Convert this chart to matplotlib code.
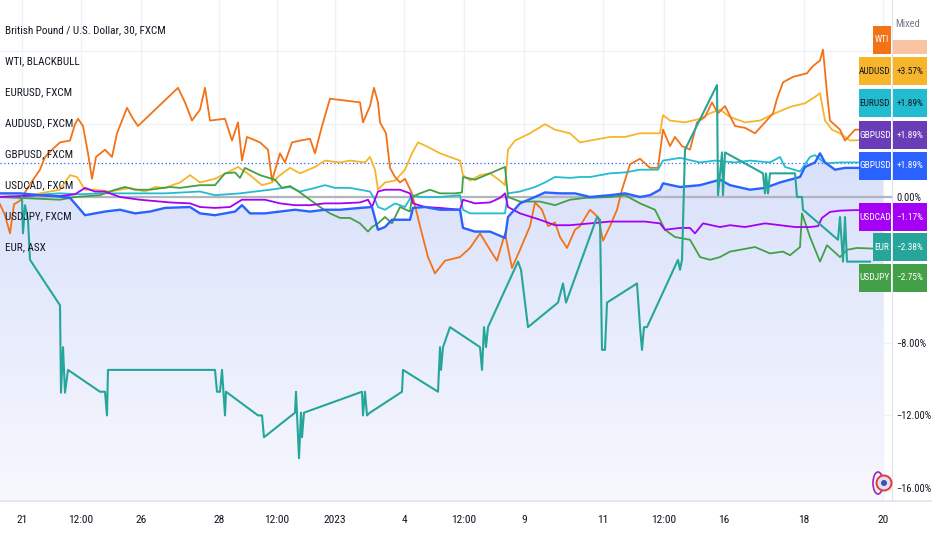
import numpy as np
import matplotlib
matplotlib.use("Agg")
import matplotlib.pyplot as plt
from matplotlib import font_manager
from matplotlib.colors import LinearSegmentedColormap
from matplotlib.patches import Rectangle, Polygon, Circle, Ellipse
from matplotlib.lines import Line2D
from matplotlib.transforms import IdentityTransform

W, H = 932, 550

# x = bar position on the gap-free 30 min axis, y = change in %
tick_pos = [22, 81, 141, 219, 277, 335, 404, 464, 524, 603, 664, 724, 804, 883]
tick_lbl = ["21", "12:00", "26", "28", "12:00", "2023", "4", "12:00", "9", "11",
            "12:00", "16", "18", "20"]
y_ticks = [-16, -12, -8, -4, 0, 4, 8]
y_shown = [-16, -12, -8, 0]   # the others sit under the value labels

wti_x = [0, 5, 10, 14, 20, 30, 40, 45, 52, 60, 70, 75, 78, 83, 88, 92, 96, 105, 112, 117,
         127, 133, 138, 178, 185, 192, 200, 205, 210, 225, 232, 238, 242, 247, 260, 268, 272,
         280, 285, 292, 300, 310, 315, 322, 330, 360, 363, 370, 374, 378, 380, 386, 390, 395,
         400, 405, 412, 420, 428, 435, 445, 460, 470, 480, 490, 497, 505, 512, 520, 530, 535,
         542, 548, 555, 560, 567, 575, 580, 590, 598, 603, 610, 617, 622, 630, 640, 650, 658,
         663, 670, 675, 682, 690, 697, 705, 712, 718, 725, 735, 745, 755, 765, 773, 777, 783,
         793, 807, 813, 820, 823, 827, 830, 840, 845, 855, 880]
wti_y = [-0.4, -1.0, -2.0, -0.4, -0.2, 0.7, 1.5, 2.2, 2.6, 3.0, 3.1, 4.0, 4.3, 3.9, 2.4, 1.0,
         2.2, 2.6, 2.2, 3.5, 4.9, 4.3, 3.9, 6.0, 5.2, 4.2, 4.8, 6.0, 4.2, 4.3, 3.1, 4.1, 2.0,
         3.3, 3.0, 2.6, 0.9, 2.4, 1.9, 3.0, 3.1, 3.2, 2.4, 3.9, 5.4, 5.2, 4.1, 5.0, 6.0, 5.2,
         4.1, 3.5, 1.6, 1.1, 0.8, 1.0, 0.2, -1.6, -3.3, -4.2, -3.5, -3.3, -2.8, -2.0, -2.9,
         -3.5, -2.0, -3.9, -2.9, -1.6, -0.3, -0.7, -1.6, -1.4, -2.2, -2.8, -1.8, -1.6, -0.7,
         -1.1, -2.4, -1.6, -0.7, 0.4, 1.8, 2.1, 1.6, 1.6, 3.7, 2.8, 3.3, 2.8, 2.6, 4.1, 4.4,
         5.2, 4.6, 5.0, 3.9, 3.8, 3.5, 4.1, 4.6, 5.4, 6.3, 6.6, 6.8, 7.2, 7.5, 8.1, 5.7, 4.2,
         3.7, 3.1, 3.7, 3.7]

aud_x = [0, 10, 20, 30, 40, 50, 60, 70, 77, 85, 95, 110, 130, 145, 155, 165, 180, 190, 200,
         215, 238, 250, 262, 272, 280, 290, 300, 315, 325, 340, 350, 365, 370, 375, 378, 385,
         395, 405, 412, 418, 428, 440, 450, 460, 463, 470, 480, 490, 500, 505, 508, 515, 530,
         545, 555, 570, 580, 590, 610, 625, 640, 660, 663, 670, 685, 700, 710, 720, 730, 745,
         760, 775, 790, 805, 815, 820, 825, 832, 840, 850, 880]
aud_y = [0.0, 0.05, -0.05, 0.1, 0.2, 0.3, 0.4, 1.2, 1.1, 0.4, 0.4, 0.3, 0.5, 0.3, 0.55, 0.5,
         0.8, 1.2, 0.8, 1.0, 1.65, 1.2, 0.65, 0.8, 1.2, 1.6, 1.3, 1.65, 2.0, 1.9, 2.0, 1.9, 2.2,
         1.5, 0.4, 0.8, 0.9, 1.5, 2.4, 3.0, 2.75, 2.4, 2.2, 2.0, 1.2, 0.9, 1.2, 1.3, 0.9, 0.65,
         2.6, 3.1, 3.5, 4.0, 3.7, 3.5, 3.0, 3.1, 3.3, 3.3, 3.5, 3.5, 4.5, 4.2, 4.1, 4.3, 4.6,
         4.8, 4.4, 4.1, 4.2, 4.6, 4.95, 5.15, 5.5, 5.7, 4.2, 3.7, 3.5, 3.1, 3.2]

eur_x = [0, 15, 30, 45, 60, 80, 100, 130, 165, 200, 215, 240, 270, 290, 300, 315, 325, 335,
         350, 370, 375, 378, 385, 395, 405, 412, 420, 440, 460, 463, 470, 490, 505, 508, 520,
         535, 545, 555, 570, 580, 590, 610, 625, 640, 658, 663, 680, 700, 715, 735, 750, 770,
         780, 785, 800, 810, 815, 825, 840, 855, 880]
eur_y = [0.0, 0.0, 0.05, 0.15, 0.2, 0.15, 0.2, 0.2, 0.2, 0.3, 0.1, 0.2, 0.4, 0.55, 0.3, 0.5,
         0.65, 0.5, 0.5, 0.3, -0.15, -0.55, -0.7, -0.35, -0.55, 0.1, 0.0, 0.0, 0.1, -0.7, -0.9,
         -0.9, -0.9, 0.2, 0.3, 0.55, 0.8, 1.1, 1.05, 1.1, 1.1, 1.3, 1.35, 1.5, 1.5, 2.0, 2.15,
         1.9, 2.0, 1.9, 2.0, 1.9, 2.2, 1.65, 1.4, 2.2, 2.3, 1.85, 1.9, 1.9, 1.9]

gbp_x = [0, 20, 40, 55, 70, 78, 85, 95, 105, 120, 135, 150, 165, 190, 200, 215, 235, 242, 250,
         265, 280, 295, 310, 325, 340, 360, 372, 378, 385, 392, 400, 410, 413, 425, 440, 460,
         463, 475, 490, 505, 508, 520, 535, 545, 560, 575, 590, 610, 625, 640, 650, 660, 663,
         680, 700, 720, 730, 750, 765, 780, 800, 805, 815, 820, 825, 835, 845, 855, 883]
gbp_y = [0.2, 0.2, 0.1, 0.05, -0.05, -0.55, -1.0, -0.9, -0.8, -0.7, -0.9, -0.8, -0.6, -0.55,
         -0.9, -1.0, -0.8, -0.45, -0.9, -0.9, -0.8, -0.7, -0.8, -0.7, -0.7, -0.6, -0.55, -1.8,
         -1.65, -1.25, -1.25, -1.25, -0.6, -0.55, -0.7, -0.7, -1.7, -1.9, -1.9, -2.25, -1.1,
         -0.35, 0.0, 0.25, 0.2, 0.2, 0.0, 0.1, 0.2, 0.0, 0.1, 0.4, 0.75, 0.55, 0.65, 0.95, 0.65,
         0.4, 0.5, 0.8, 1.1, 1.65, 1.9, 2.4, 1.9, 1.5, 1.6, 1.6, 1.6]
gbp_last = 1.89

cad_x = [0, 20, 40, 60, 75, 85, 95, 105, 120, 140, 170, 190, 200, 215, 230, 242, 250, 265, 280,
         295, 310, 325, 340, 360, 368, 372, 378, 385, 400, 410, 413, 425, 440, 460, 463, 475,
         490, 500, 505, 508, 520, 540, 555, 570, 590, 610, 625, 645, 660, 665, 680, 690, 695,
         703, 720, 730, 745, 765, 780, 795, 810, 818, 822, 830, 840, 855, 880]
cad_y = [0.0, 0.05, 0.1, 0.05, 0.15, 0.5, 0.3, 0.3, 0.0, -0.15, -0.3, -0.35, -0.55, -0.6, -0.55,
         -0.15, -0.15, -0.15, -0.35, -0.45, -0.45, -0.35, -0.35, -0.3, -0.15, -0.55, 0.3, 0.4,
         0.4, 0.2, -0.35, -0.55, -0.6, -0.7, -0.15, -0.35, -0.3, -0.05, 0.2, -0.55, -0.9,
         -1.25, -1.55, -1.55, -1.45, -1.35, -1.35, -1.35, -1.45, -1.8, -1.7, -1.7, -2.0, -1.45,
         -1.65, -1.55, -1.65, -1.45, -1.55, -1.65, -1.65, -1.6, -1.15, -0.82, -0.75, -0.72,
         -0.75]

jpy_x = [0, 20, 40, 60, 75, 100, 115, 125, 135, 150, 170, 180, 200, 215, 225, 235, 240, 245,
         260, 275, 282, 290, 300, 310, 320, 330, 340, 350, 360, 368, 372, 378, 385, 392, 400,
         410, 412, 420, 430, 440, 455, 462, 463, 475, 490, 505, 508, 520, 540, 555, 570, 585,
         610, 625, 640, 655, 665, 675, 690, 700, 710, 720, 730, 740, 755, 770, 783, 790, 800,
         802, 810, 820, 827, 840, 847, 857, 880]
jpy_y = [0.0, -0.05, -0.1, -0.15, 0.0, 0.1, 0.4, 0.55, 0.4, 0.4, 0.55, 0.5, 0.65, 0.65, 1.3,
         1.35, 1.05, 1.6, 1.2, 0.95, 0.5, 0.6, 0.25, -0.15, -0.55, -0.9, -1.15, -1.15, -1.45,
         -1.9, -1.65, -1.45, -1.1, -1.45, -0.55, -0.8, 0.0, 0.2, 0.4, 0.2, 0.2, 0.25, 1.1, 0.95,
         1.3, 1.65, 0.0, -0.25, -0.25, -0.45, -0.15, -0.05, 0.0, 0.1, -0.35, -0.7, -1.8, -2.2,
         -2.35, -3.3, -3.45, -3.3, -3.0, -2.9, -2.75, -3.1, -3.0, -3.2, -2.75, -0.9, -2.2,
         -3.55, -2.65, -3.3, -2.9, -2.8, -2.85]

asx_x = [22, 23, 25, 28, 30, 60, 61, 63, 65, 68, 100, 105, 107, 108, 215, 217, 220, 222, 225,
         226, 258, 262, 264, 295, 296, 299, 301, 302, 304, 362, 363, 365, 367, 370, 402, 403,
         438, 440, 441, 443, 450, 480, 482, 484, 486, 488, 518, 521, 525, 528, 558, 563, 566,
         568, 597, 600, 602, 605, 607, 637, 640, 642, 644, 647, 678, 680, 682, 685, 717, 718,
         722, 723, 725, 763, 765, 766, 768, 770, 795, 797, 802, 803, 838, 840, 843, 845, 847,
         870]
asx_y = [0.0, -2.0, -0.45, -1.25, -3.45, -5.95, -10.75, -8.25, -10.75, -9.5, -10.7, -10.7,
         -12.0, -9.5, -9.5, -10.7, -10.7, -9.5, -12.0, -10.7, -12.0, -12.0, -13.2, -11.85,
         -10.7, -14.35, -11.85, -13.2, -11.85, -10.7, -12.0, -10.7, -12.0, -11.85, -10.7, -9.5,
         -10.7, -8.25, -9.5, -8.25, -7.15, -8.25, -9.5, -7.15, -8.25, -7.15, -3.55, -4.0, -5.8,
         -7.15, -5.8, -4.75, -5.8, -5.5, -1.1, -1.25, -8.4, -8.4, -5.8, -4.75, -7.15, -8.4,
         -7.15, -7.15, -3.45, -4.0, -3.45, 2.6, 6.15, 0.1, 2.45, 0.1, 2.45, 1.3, 0.2, 1.3, 0.2,
         1.3, 1.3, 0.0, 0.0, -0.7, -2.35, -1.1, -3.55, -1.1, -3.55, -3.55]

legend_lines = ["British Pound / U.S. Dollar, 30, FXCM", "WTI, BLACKBULL", "EURUSD, FXCM",
                "AUDUSD, FXCM", "GBPUSD, FXCM", "USDCAD, FXCM", "USDJPY, FXCM", "EUR, ASX"]
lbl_names = ["WTI", "AUDUSD", "EURUSD", "GBPUSD", "GBPUSD", "USDCAD", "EUR", "USDJPY"]
lbl_values = ["", "+3.57%", "+1.89%", "+1.89%", "+1.89%", "\u22121.17%", "\u22122.38%",
              "\u22122.75%"]

C_WTI, C_AUD, C_EUR, C_GBP = "#F47216", "#F7B52C", "#22BCD1", "#2962FF"
C_CAD, C_ASX, C_JPY, C_GBP2 = "#A400F5", "#26A69A", "#43A047", "#6A3DB8"
lbl_colors = [C_WTI, C_AUD, C_EUR, C_GBP2, C_GBP, C_CAD, C_ASX, C_JPY]
INK, GRID = "#131722", "#EEF1F8"

# narrow face if there is one, TradingView text is tall and thin
avail = {f.name for f in font_manager.fontManager.ttflist}
FONT, SCALE = "Roboto", 1.0
for cand in ["Liberation Sans Narrow", "Roboto Condensed", "Open Sans Condensed"]:
    if cand in avail:
        FONT, SCALE = cand, 1.2
        break
plt.rcParams["font.family"] = [FONT, "DejaVu Sans"]
FS_LEG, FS_TICK, FS_BOX = 6.7 * SCALE, 6.2 * SCALE, 5.6 * SCALE

X_RIGHT, Y_BOTTOM = 892, 500
YTOP = 197 / 18.2
YLO = (197 - Y_BOTTOM) / 18.2

fig = plt.figure(figsize=(W / 100, H / 100), dpi=100)
ax = fig.add_axes([0, 1 - Y_BOTTOM / H, X_RIGHT / W, Y_BOTTOM / H])
ax.set_facecolor("white")
PIX = IdentityTransform()


def px(x, y):
    return x, H - y


# grid
for t in tick_pos:
    ax.axvline(t, color=GRID, lw=1, zorder=0)
for v in y_ticks:
    ax.axhline(v, color=GRID, lw=1, zorder=0)

# gradient area under the main series
verts = list(zip(gbp_x, gbp_y)) + [(gbp_x[-1], YLO), (gbp_x[0], YLO)]
clip = Polygon(verts, closed=True, facecolor="none", edgecolor="none")
ax.add_patch(clip)
cmap = LinearSegmentedColormap.from_list("area", ["#F7F8FE", "#D8E0FA"])
img = ax.imshow(np.linspace(0, 1, 256).reshape(-1, 1), cmap=cmap, origin="lower",
                extent=[0, X_RIGHT, YLO, max(gbp_y)], aspect="auto", zorder=0.5)
img.set_clip_path(clip)

ax.axhline(0, color="#B2B5BE", lw=1.6, zorder=1)
ax.axhline(gbp_last, color=C_GBP, lw=0.9, ls=(0, (1, 2)), zorder=1)

ax.plot(aud_x, aud_y, color=C_AUD, lw=1.3, zorder=2)
ax.plot(wti_x, wti_y, color=C_WTI, lw=1.3, zorder=2)
ax.plot(eur_x, eur_y, color=C_EUR, lw=1.3, zorder=2)
ax.plot(jpy_x, jpy_y, color=C_JPY, lw=1.3, zorder=2)
ax.plot(cad_x, cad_y, color=C_CAD, lw=1.3, zorder=2)
ax.plot(gbp_x, gbp_y, color=C_GBP, lw=1.7, zorder=3)
ax.plot(asx_x, asx_y, color=C_ASX, lw=1.5, zorder=3)

ax.set_xlim(0, X_RIGHT)
ax.set_ylim(YLO, YTOP)
ax.set_xticks(tick_pos, tick_lbl)
ax.set_yticks(y_ticks, [f"{v:.2f}%".replace("-", "\u2212") if v in y_shown else ""
                        for v in y_ticks])
ax.yaxis.tick_right()
ax.tick_params(axis="x", length=0, pad=11, labelsize=FS_TICK + 0.8, labelcolor=INK)
ax.tick_params(axis="y", length=0, pad=3, labelsize=FS_TICK, labelcolor=INK)
for s in ["top", "left", "bottom"]:
    ax.spines[s].set_visible(False)
ax.spines["right"].set_color("#E0E3EB")

fig.add_artist(Line2D([0, W], [H - 501, H - 501], color="#E0E3EB", lw=1.2, transform=PIX))

# legend column
for i, txt in enumerate(legend_lines):
    fig.text(*px(5, 30 + 31 * i), txt, transform=PIX, ha="left", va="center",
             fontsize=FS_LEG, color=INK)

# last value labels on the price scale
lbl_y = [40, 71, 103, 135, 166, 217, 247, 278]
for name, val, col, yc in zip(lbl_names, lbl_values, lbl_colors, lbl_y):
    tc = INK if col in (C_AUD, C_EUR) else "white"
    x0 = 873 if len(name) <= 3 else 859
    fig.add_artist(Rectangle(px(x0, yc + 14), 891 - x0, 28, facecolor=col,
                             edgecolor="none", transform=PIX, zorder=5))
    fig.text(*px((x0 + 891) / 2, yc), name, transform=PIX, ha="center", va="center",
             fontsize=FS_BOX, color=tc, zorder=6)
    if val:
        fig.add_artist(Rectangle(px(893, yc + 14), 34, 28, facecolor=col,
                                 edgecolor="none", transform=PIX, zorder=5))
        fig.text(*px(910, yc), val, transform=PIX, ha="center", va="center",
                 fontsize=FS_BOX, color=tc, zorder=6)
    else:
        fig.add_artist(Rectangle(px(893, yc + 14), 34, 14, facecolor="#F9C2A3",
                                 edgecolor="none", transform=PIX, zorder=5))

fig.text(*px(908, 24), "Mixed", transform=PIX, ha="center", va="center", fontsize=FS_TICK,
         color="#787B86", zorder=6)

# little flag badge
fig.add_artist(Ellipse(px(878, 483), 10, 22, facecolor="none", edgecolor="#9C27B0",
                       lw=1.2, transform=PIX, zorder=5))
fig.add_artist(Circle(px(884, 483), 7.5, facecolor="#DDE3F5", edgecolor="#E53935",
                      lw=1.4, transform=PIX, zorder=5))
fig.add_artist(Circle(px(884, 483), 3, facecolor="#3F51B5", edgecolor="none",
                      transform=PIX, zorder=6))

fig.savefig("out.png", dpi=100, facecolor="white")
